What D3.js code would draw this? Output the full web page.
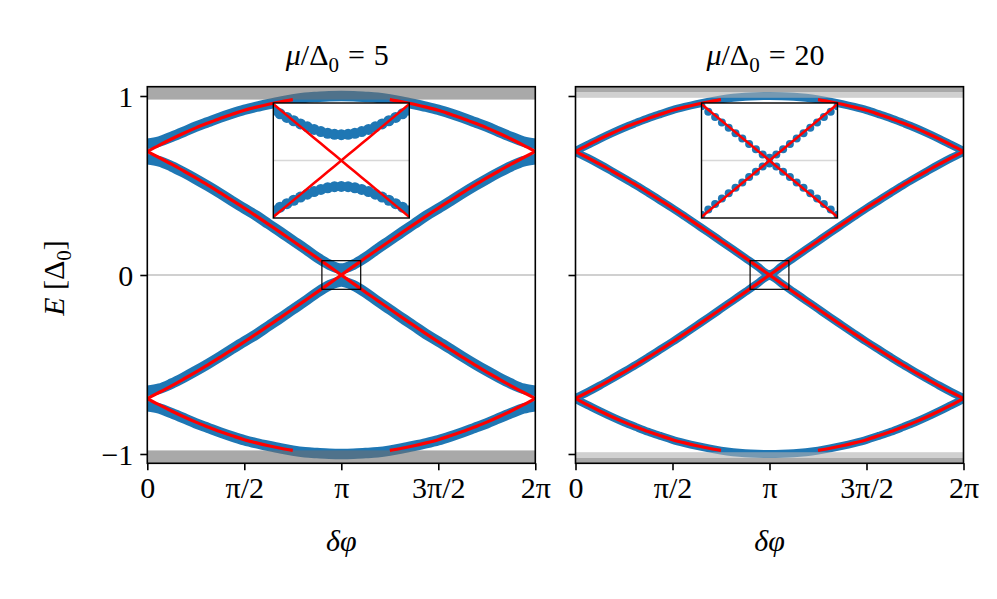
<!DOCTYPE html>
<html><head><meta charset="utf-8">
<script src="https://cdn.jsdelivr.net/npm/d3@7"></script>
<style>
body{margin:0;background:#fff}
svg{display:block}
text{font-family:"Liberation Serif","Times New Roman",serif;fill:#000}
</style>
</head><body>
<svg id="c" width="997" height="599"></svg>
<script>
// ---------- data (phase in units of π) ----------
const phiGrid = [0,0.0625,0.125,0.1875,0.25,0.3125,0.375,0.4375,0.5,0.5625,0.625,0.6875,0.75,0.8125,0.875,0.9375,1,
  1.0625,1.125,1.1875,1.25,1.3125,1.375,1.4375,1.5,1.5625,1.625,1.6875,1.75,1.8125,1.875,1.9375,2];

// analytic (red) branches
const redCross = [0.690,0.655,0.619,0.581,0.542,0.502,0.460,0.417,0.374,0.329,0.283,0.237,0.190,0.143,0.096,0.048,0,
  -0.048,-0.096,-0.143,-0.190,-0.237,-0.283,-0.329,-0.374,-0.417,-0.460,-0.502,-0.542,-0.581,-0.619,-0.655,-0.690];
const redUpper = [0.690,0.726,0.760,0.792,0.822,0.849,0.875,0.898,0.920,0.938,0.954,0.968,0.980,
  null,null,null,null,null,null,null,
  0.980,0.968,0.954,0.938,0.920,0.898,0.875,0.849,0.822,0.792,0.760,0.726,0.690];

// numerical (blue) branches, mu/Delta0 = 5
const blueUpper5 = [0.733,0.746,0.772,0.800,0.829,0.854,0.879,0.902,0.923,0.940,0.955,0.969,0.981,0.990,0.995,0.999,1.000,
  0.999,0.995,0.990,0.981,0.969,0.955,0.940,0.923,0.902,0.879,0.854,0.829,0.800,0.772,0.746,0.733];
const blueLower5 = [0.647,0.635,0.607,0.573,0.536,0.497,0.456,0.413,0.371,0.331,0.285,0.240,0.193,0.147,0.098,0.058,0.036,
  0.058,0.098,0.147,0.193,0.240,0.285,0.331,0.371,0.413,0.456,0.497,0.536,0.573,0.607,0.635,0.647];
// numerical (blue) branches, mu/Delta0 = 20
const blueUpper20 = [0.693,0.727,0.761,0.793,0.823,0.850,0.876,0.899,0.921,0.939,0.955,0.969,0.981,0.990,0.996,0.999,1.000,
  0.999,0.996,0.990,0.981,0.969,0.955,0.939,0.921,0.899,0.876,0.850,0.823,0.793,0.761,0.727,0.693];
const blueLower20 = [0.687,0.654,0.618,0.580,0.541,0.501,0.459,0.416,0.373,0.328,0.282,0.236,0.189,0.142,0.095,0.048,0.005,
  0.048,0.095,0.142,0.189,0.236,0.282,0.328,0.373,0.416,0.459,0.501,0.541,0.580,0.618,0.654,0.687];

// insets: phase offset from π (units of π)
const insetPhi = [-0.10,-0.09,-0.08,-0.07,-0.06,-0.05,-0.04,-0.03,-0.02,-0.01,0,0.01,0.02,0.03,0.04,0.05,0.06,0.07,0.08,0.09,0.10];
const insetRed = [0.0785,0.0707,0.0628,0.0550,0.0471,0.0393,0.0314,0.0236,0.0157,0.0079,0,
  -0.0079,-0.0157,-0.0236,-0.0314,-0.0393,-0.0471,-0.0550,-0.0628,-0.0707,-0.0785];
const insetBlue5 = [0.0700,0.0649,0.0600,0.0553,0.0509,0.0469,0.0433,0.0402,0.0379,0.0365,0.0360,
  0.0365,0.0379,0.0402,0.0433,0.0469,0.0509,0.0553,0.0600,0.0649,0.0700];
const insetBlue20 = [0.0755,0.0680,0.0604,0.0529,0.0455,0.0380,0.0305,0.0231,0.0155,0.0085,0.0040,
  0.0085,0.0155,0.0231,0.0305,0.0380,0.0455,0.0529,0.0604,0.0680,0.0755];

const muValues = [5, 20];
const xTickValues = [0, 0.5, 1, 1.5, 2];
const xTickLabels = ["0", "π/2", "π", "3π/2", "2π"];
const yTickValues = [-1, 0, 1];
const yTickLabels = ["−1", "0", "1"];
// continuum bands [lo, hi, shade]
const continuum5 = [[0.98, 1.06, "dark"], [-1.06, -0.98, "dark"]];
const continuum20 = [[1.022, 1.06, "dark"], [0.99, 1.022, "light"], [-1.06, -1.022, "dark"], [-1.022, -0.99, "light"]];
const zoomPhi = [0.9, 1.1], zoomE = [-0.08, 0.08];

// ---------- drawing ----------
const svg = d3.select("#c");
const PI = Math.PI;
const FS = 30;
const panelW = 388, topY = 86.7, bottomY = 463.3;
const panels = [
  {x0: 147.3, mu: muValues[0], up: blueUpper5, lo: blueLower5, inset: insetBlue5, bands: continuum5, bw: 10.5, r: 5.5, showY: true},
  {x0: 575.5, mu: muValues[1], up: blueUpper20, lo: blueLower20, inset: insetBlue20, bands: continuum20, bw: 8, r: 4, showY: false}
];
const shade = {dark: "#707070", light: "#b0b0b0"};
const BLUE = "#1f77b4", RED = "#ff0000";

const y = d3.scaleLinear().domain([-1.052, 1.052]).range([bottomY, topY]);

panels.forEach((p, i) => {
  const x = d3.scaleLinear().domain([0, 2 * PI]).range([p.x0, p.x0 + panelW]);
  const g = svg.append("g");
  const cid = "clip" + i;
  g.append("clipPath").attr("id", cid).append("rect")
    .attr("x", p.x0).attr("y", topY).attr("width", panelW).attr("height", bottomY - topY);
  const body = g.append("g").attr("clip-path", `url(#${cid})`);

  // zero line
  body.append("line").attr("x1", x(0)).attr("x2", x(2 * PI)).attr("y1", y(0)).attr("y2", y(0))
    .attr("stroke", "#d0d0d0").attr("stroke-width", 1.8);

  const mk = (arr, sign) => phiGrid.map((f, k) => arr[k] == null ? null : [f * PI, sign * arr[k]]);
  const line = d3.line().defined(d => d != null).x(d => x(d[0])).y(d => y(d[1])).curve(d3.curveMonotoneX);

  // blue numerical branches
  [mk(p.up, 1), mk(p.lo, 1), mk(p.lo, -1), mk(p.up, -1)].forEach(d => {
    body.append("path").attr("d", line(d)).attr("fill", "none").attr("stroke", BLUE)
      .attr("stroke-width", p.bw).attr("stroke-linecap", "round").attr("stroke-linejoin", "round");
  });

  // continuum bands
  p.bands.forEach(b => {
    body.append("rect").attr("x", x(0)).attr("width", panelW)
      .attr("y", y(b[1])).attr("height", y(b[0]) - y(b[1]))
      .attr("fill", shade[b[2]]).attr("fill-opacity", 0.6);
  });

  // red analytic branches
  [mk(redCross, 1), mk(redCross, -1), mk(redUpper, 1), mk(redUpper, -1)].forEach(d => {
    body.append("path").attr("d", line(d)).attr("fill", "none").attr("stroke", RED).attr("stroke-width", 3.2);
  });

  // zoom rectangle
  g.append("rect").attr("x", x(zoomPhi[0] * PI)).attr("y", y(zoomE[1]))
    .attr("width", x(zoomPhi[1] * PI) - x(zoomPhi[0] * PI)).attr("height", y(zoomE[0]) - y(zoomE[1]))
    .attr("fill", "none").attr("stroke", "#000").attr("stroke-width", 1.2);

  // frame
  g.append("rect").attr("x", p.x0).attr("y", topY).attr("width", panelW).attr("height", bottomY - topY)
    .attr("fill", "none").attr("stroke", "#000").attr("stroke-width", 1.6);

  // x axis
  const xa = g.append("g").attr("transform", `translate(0,${bottomY})`)
    .call(d3.axisBottom(x).tickValues(xTickValues.map(v => v * PI)).tickFormat((d, j) => xTickLabels[j]).tickSize(7).tickPadding(6));
  xa.select(".domain").remove();
  xa.selectAll("line").attr("stroke-width", 1.6);
  xa.selectAll("text").attr("font-size", FS).style("font-family", '"Liberation Serif",serif');

  // y axis
  const ya = g.append("g").attr("transform", `translate(${p.x0},0)`)
    .call(d3.axisLeft(y).tickValues(yTickValues).tickFormat((d, j) => p.showY ? yTickLabels[j] : "").tickSize(7).tickPadding(7));
  ya.select(".domain").remove();
  ya.selectAll("line").attr("stroke-width", 1.6);
  ya.selectAll("text").attr("font-size", FS).attr("dy", "0.34em").style("font-family", '"Liberation Serif",serif');

  // x label
  g.append("text").attr("x", p.x0 + panelW / 2).attr("y", 551).attr("text-anchor", "middle")
    .attr("font-size", FS).attr("font-style", "italic").text("δφ");

  // title
  const t = g.append("text").attr("x", p.x0 + panelW / 2 - 4).attr("y", 65).attr("text-anchor", "middle").attr("font-size", FS);
  t.append("tspan").attr("font-style", "italic").text("μ");
  t.append("tspan").text("/Δ");
  t.append("tspan").attr("font-size", 21).attr("dy", 7).text("0");
  t.append("tspan").attr("dy", -7).attr("dx", 9).text("=");
  t.append("tspan").attr("dx", 9).text(String(p.mu));

  // inset
  const ix0 = p.x0 + 126, iw = 136, iy0 = 103, ih = 115;
  const xi = d3.scaleLinear().domain([zoomPhi[0] * PI, zoomPhi[1] * PI]).range([ix0, ix0 + iw]);
  const yi = d3.scaleLinear().domain(zoomE).range([iy0 + ih, iy0]);
  const icid = "iclip" + i;
  g.append("clipPath").attr("id", icid).append("rect").attr("x", ix0).attr("y", iy0).attr("width", iw).attr("height", ih);
  g.append("rect").attr("x", ix0).attr("y", iy0).attr("width", iw).attr("height", ih).attr("fill", "#fff");
  const ib = g.append("g").attr("clip-path", `url(#${icid})`);
  ib.append("line").attr("x1", ix0).attr("x2", ix0 + iw).attr("y1", yi(0)).attr("y2", yi(0))
    .attr("stroke", "#d8d8d8").attr("stroke-width", 1.5);
  [1, -1].forEach(s => {
    ib.selectAll(null).data(insetPhi.map((f, k) => [(1 + f) * PI, s * p.inset[k]])).enter().append("circle")
      .attr("cx", d => xi(d[0])).attr("cy", d => yi(d[1])).attr("r", p.r).attr("fill", BLUE);
  });
  const iline = d3.line().x(d => xi(d[0])).y(d => yi(d[1]));
  [1, -1].forEach(s => {
    ib.append("path").attr("d", iline(insetPhi.map((f, k) => [(1 + f) * PI, s * insetRed[k]])))
      .attr("fill", "none").attr("stroke", RED).attr("stroke-width", 2.5);
  });
  g.append("rect").attr("x", ix0).attr("y", iy0).attr("width", iw).attr("height", ih)
    .attr("fill", "none").attr("stroke", "#000").attr("stroke-width", 1.4);
});

// y label
const yl = svg.append("text").attr("transform", "translate(64,278) rotate(-90)").attr("text-anchor", "middle").attr("font-size", FS);
yl.append("tspan").attr("font-style", "italic").text("E");
yl.append("tspan").text(" [Δ");
yl.append("tspan").attr("font-size", 21).attr("dy", 7).text("0");
yl.append("tspan").attr("dy", -7).text("]");
</script>
</body></html>
